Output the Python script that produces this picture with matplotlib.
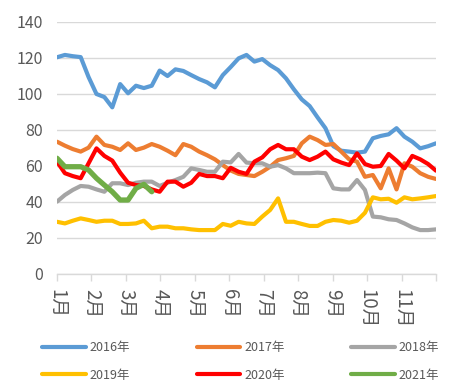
import matplotlib
matplotlib.use("Agg")
import matplotlib.pyplot as plt
from matplotlib.lines import Line2D

plt.rcParams['font.family'] = ['Noto Sans CJK SC', 'DejaVu Sans']

month_labels = ["1月", "2月", "3月", "4月", "5月", "6月", "7月", "8月", "9月", "10月", "11月"]
series_names = ["2016年", "2017年", "2018年", "2019年", "2020年", "2021年"]

s2016 = [120.4, 121.7, 121, 120.5, 109.4, 100, 98.3, 92.6, 105.5, 100.4, 104.6, 103.3, 104.6,
         113, 110, 113.7, 112.8, 110.5, 108.3, 106.5, 103.7, 110.5, 115, 119.8, 121.7, 118,
         119.4, 116, 113.3, 108.7, 102.6, 97, 93.3, 87, 81, 71, 68.5, 68, 67.4, 68, 75.4,
         76.7, 77.6, 81, 76.3, 73.5, 69.8, 71, 72.6]
s2017 = [73.5, 71.3, 69.4, 68, 70.2, 76.3, 71.7, 70.7, 68.9, 72.6, 68.9, 70.2, 72.2, 70.7,
         68.5, 66, 72.2, 70.7, 68, 66, 63.7, 60.5, 57.5, 55.6, 55, 54.4, 56.8, 59.6, 63.3,
         64.3, 65.6, 72.6, 76.3, 74.4, 71.7, 72.2, 68, 63.7, 62.4, 54, 55, 47.6, 58.7, 47,
         61.5, 59.6, 56, 54, 52.8]
s2018 = [40.2, 43.9, 46.7, 48.9, 48.5, 47, 45.7, 50.4, 50.4, 49.4, 50.7, 51.3, 51.3, 48.9,
         50.7, 52.2, 54, 58.7, 57.8, 56.8, 56.8, 62.4, 62, 66.7, 61.9, 61.5, 61.5, 59.6, 60.5,
         58.7, 56, 56, 56, 56.3, 56, 47.6, 47, 47, 52.2, 46.7, 31.9, 31.5, 30.4, 30, 28.1,
         25.9, 24.4, 24.4, 24.8]
s2019 = [29, 28.1, 29.6, 30.9, 30, 29, 29.6, 29.6, 27.8, 27.8, 28.1, 29.6, 25.4, 26.3, 26.3,
         25.4, 25.4, 24.8, 24.4, 24.4, 24.4, 27.8, 26.8, 29, 28.1, 27.8, 31.9, 35.6, 42, 29,
         29, 27.8, 26.7, 26.7, 29, 30, 29.6, 28.5, 29.6, 34, 42.6, 41.5, 41.8, 39.6, 42.6,
         41.5, 42, 42.6, 43.3]
s2020 = [62.4, 56, 54.4, 53.2, 61.5, 69.8, 65.6, 63, 56.3, 50.7, 49.4, 48.9, 47, 45.7, 51.3,
         51.3, 48.5, 50.7, 55.6, 54.4, 54.4, 53.2, 59, 56.8, 55.6, 62.4, 64.8, 69.3, 71.7,
         69.3, 69.3, 65.2, 63.3, 65.2, 68, 63.7, 61.9, 60.5, 67, 61.1, 59.6, 60, 66.7, 63,
         58.7, 65.6, 63.7, 61.1, 57.4]
s2021 = [64.3, 59.6, 59.6, 59.6, 57.8, 53.2, 49.4, 45.7, 41.1, 41.1, 47.6, 49.8, 45.7]

colors = ["#5B9BD5", "#ED7D31", "#A5A5A5", "#FFC000", "#FF0000", "#70AD47"]
data = [s2016, s2017, s2018, s2019, s2020, s2021]

fig = plt.figure(figsize=(4.59, 3.84), dpi=100)
ax = fig.add_axes([57 / 459, 1 - 274 / 384, (436 - 57) / 459, (274 - 22) / 384])

n = len(s2016)
widths = [3.0, 3.0, 3.0, 3.0, 3.0, 3.8]
handles = []
for vals, c, name, lw in zip(data, colors, series_names, widths):
    ax.plot(range(len(vals)), vals, color=c, lw=lw, solid_joinstyle='round',
            solid_capstyle='round', label=name)
    handles.append(Line2D([0], [0], color=c, lw=3.0, solid_capstyle='round'))

ax.set_xlim(0, n - 1)
ax.set_ylim(0, 140)
ax.set_yticks(range(0, 141, 20))
ax.grid(axis='y', color='#D9D9D9', lw=1)
ax.set_axisbelow(True)
for sp in ['top', 'right', 'left']:
    ax.spines[sp].set_visible(False)
ax.spines['bottom'].set_color('#D9D9D9')
ax.spines['bottom'].set_linewidth(1)

step = (n - 1) / 11
ticks = [i * step for i in range(12)]
ax.set_xticks(ticks)
ax.set_xticklabels(month_labels + [""], rotation=-90, ha='center', va='top')
ax.tick_params(axis='x', colors='#D9D9D9', length=5, width=1, labelcolor='#595959',
               labelsize=13.5, pad=6)
for t in ax.get_xticklabels():
    t.set_fontweight('light')
ax.tick_params(axis='y', length=0, labelcolor='#595959', labelsize=11.5, pad=10)

order = [0, 3, 1, 4, 2, 5]
leg = fig.legend([handles[i] for i in order], [series_names[i] for i in order],
                 ncol=3, loc='center', bbox_to_anchor=(0.524, 0.0586), frameon=False,
                 handlelength=3.5, handletextpad=0.3, columnspacing=5.3,
                 labelspacing=1.15, fontsize=9)
for t in leg.get_texts():
    t.set_color('#595959')

fig.savefig("out.png", dpi=100)
